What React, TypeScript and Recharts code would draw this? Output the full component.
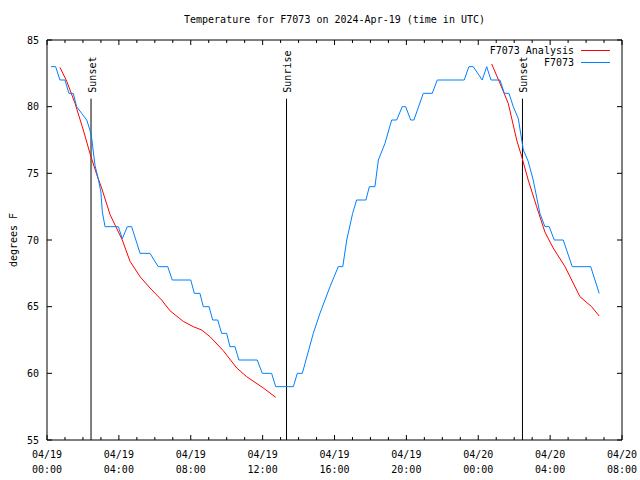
import { LineChart, Line, XAxis, YAxis, ReferenceLine, Legend } from 'recharts'

// gnuplot-style temperature plot: station obs vs. analysis, with sun events
const FONT = '"DejaVu Sans Mono", "Liberation Mono", monospace'

// [hours since 04/19 00:00 UTC, temperature °F]
const analysisEvening: [number, number][] = [
  [0.72, 82.95], [1.1, 81.9], [1.56, 80.25], [2.02, 78.25], [2.39, 76.5], [2.77, 74.9],
  [3.04, 73.9], [3.51, 71.9], [4.19, 70], [4.62, 68.4], [5.18, 67.25], [5.73, 66.4],
  [6.38, 65.5], [6.84, 64.7], [7.58, 63.9], [8.14, 63.5], [8.61, 63.25], [9.07, 62.75],
  [9.81, 61.7], [10.56, 60.4], [11.11, 59.75], [12.04, 58.9], [12.73, 58.2],
]

const analysisNextEvening: [number, number][] = [
  [24.75, 83.2], [25.21, 81.75], [25.67, 80.25], [26.14, 77.5], [26.42, 76.25],
  [26.78, 74.5], [27.25, 72.5], [27.71, 70.6], [28.17, 69.4], [28.83, 68],
  [29.66, 65.75], [30.31, 65], [30.73, 64.3],
]

const stationObs: [number, number][] = [
  [0.22, 83], [0.48, 83], [0.72, 82], [1.0, 82], [1.22, 81], [1.46, 81], [1.65, 80],
  [1.93, 79.5], [2.21, 79], [2.39, 78.25], [2.49, 77.6], [2.67, 75.6], [2.85, 74.6],
  [3.0, 73.6], [3.08, 72.1], [3.23, 71], [3.97, 71], [4.19, 70.1], [4.47, 71], [4.71, 71],
  [5.18, 69], [5.73, 69], [6.19, 68], [6.72, 68], [6.97, 67], [8.0, 67], [8.2, 66],
  [8.51, 66], [8.7, 65], [9.02, 65], [9.22, 64], [9.5, 64], [9.72, 63], [10.0, 63],
  [10.18, 62], [10.46, 62], [10.68, 61], [11.7, 61], [11.98, 60], [12.5, 60], [12.73, 59],
  [13.71, 59], [13.93, 60], [14.21, 60], [14.82, 63], [15.19, 64.5], [15.75, 66.5],
  [16.21, 68], [16.46, 68], [16.68, 70], [17.01, 72], [17.23, 73], [17.75, 73], [17.94, 74],
  [18.25, 74], [18.44, 76], [18.81, 77.25], [19.18, 79], [19.46, 79], [19.77, 80],
  [19.96, 80], [20.24, 79], [20.42, 79], [20.94, 81], [21.44, 81], [21.72, 82], [23.22, 82],
  [23.48, 83], [23.72, 83], [24.22, 82], [24.47, 83], [24.71, 82], [25.21, 82], [25.45, 81],
  [25.71, 81], [25.95, 80], [26.23, 79.1], [26.42, 77.5], [26.51, 76.75], [26.78, 75.9],
  [27.06, 74.5], [27.43, 72], [27.71, 71], [27.95, 71], [28.23, 70], [28.73, 70],
  [29.23, 68], [30.26, 68], [30.73, 66],
]

const seriesNames = ['F7073 Analysis', 'F7073']
const seriesColors = ['#ff0000', '#0080ff']

const sunTimes = [2.45, 13.33, 26.46]
const sunLabels = ['Sunset', 'Sunrise', 'Sunset']
const sunLineTop = 80.6

const xTicks = [
  0, 1, 2, 3, 4, 5, 6, 7, 8, 9, 10, 11, 12, 13, 14, 15, 16,
  17, 18, 19, 20, 21, 22, 23, 24, 25, 26, 27, 28, 29, 30, 31, 32,
]
const xMajorDates = ['04/19', '04/19', '04/19', '04/19', '04/19', '04/19', '04/20', '04/20', '04/20']
const xMajorTimes = ['00:00', '04:00', '08:00', '12:00', '16:00', '20:00', '00:00', '04:00', '08:00']
const yTicks = [55, 60, 65, 70, 75, 80, 85]

const toRows = (pts: [number, number][]) => pts.map(([t, temp]) => ({ t, temp }))

function BottomTick({ x, y, payload }: any) {
  const h = payload.value
  const major = h % 4 === 0
  const i = h / 4
  return (
    <g>
      <line x1={x} y1={y} x2={x} y2={y - (major ? 5 : 3)} stroke="#000" />
      {major && (
        <text x={x} y={y + 18} textAnchor="middle" fontFamily={FONT} fontSize={10} fill="#000">
          <tspan x={x}>{xMajorDates[i]}</tspan>
          <tspan x={x} dy={15}>{xMajorTimes[i]}</tspan>
        </text>
      )}
    </g>
  )
}

function TopTick({ x, y, payload }: any) {
  const major = payload.value % 4 === 0
  return <line x1={x} y1={y} x2={x} y2={y + (major ? 5 : 3)} stroke="#000" />
}

function LeftTick({ x, y, payload }: any) {
  return (
    <g>
      <line x1={x} y1={y} x2={x + 5} y2={y} stroke="#000" />
      <text x={x - 8} y={y} dy={3.5} textAnchor="end" fontFamily={FONT} fontSize={10} fill="#000">
        {payload.value}
      </text>
    </g>
  )
}

function RightTick({ x, y }: any) {
  return <line x1={x} y1={y} x2={x - 5} y2={y} stroke="#000" />
}

function SunLabel({ viewBox, text }: any) {
  const x = viewBox.x + 1
  const y = viewBox.y - 6
  return (
    <text
      x={x}
      y={y}
      transform={`rotate(-90 ${x} ${y})`}
      textAnchor="start"
      dominantBaseline="central"
      fontFamily={FONT}
      fontSize={10}
      fill="#000"
    >
      {text}
    </text>
  )
}

// legend in plot order (recharts sorts the payload by name otherwise)
function LegendBox({ payload }: any) {
  const items = (payload || [])
    .filter((p: any) => p.type !== 'none')
    .sort((a: any, b: any) => seriesNames.indexOf(a.value) - seriesNames.indexOf(b.value))
  return (
    <div style={{ fontFamily: FONT, fontSize: 10, color: '#000' }}>
      {items.map((p: any) => (
        <div
          key={p.value}
          style={{ display: 'flex', justifyContent: 'flex-end', alignItems: 'center', height: 12 }}
        >
          <span>{p.value}</span>
          <span style={{ marginLeft: 7, width: 29, borderTop: `1px solid ${p.color}` }} />
        </div>
      ))}
    </div>
  )
}

export default function App() {
  return (
    <div style={{ position: 'absolute', left: 0, top: 0, background: '#fff' }}>
      <LineChart width={640} height={480} margin={{ top: 0, right: 0, bottom: 0, left: 0 }}>
        <XAxis
          dataKey="t"
          type="number"
          domain={[0, 32]}
          allowDataOverflow
          ticks={xTicks}
          interval={0}
          height={40}
          tickSize={0}
          tickMargin={0}
          tickLine={false}
          axisLine={{ stroke: '#000' }}
          tick={(p: any) => <BottomTick {...p} />}
        />
        <XAxis
          xAxisId="top"
          orientation="top"
          dataKey="t"
          type="number"
          domain={[0, 32]}
          allowDataOverflow
          ticks={xTicks}
          interval={0}
          height={40}
          tickSize={0}
          tickMargin={0}
          tickLine={false}
          axisLine={{ stroke: '#000' }}
          tick={(p: any) => <TopTick {...p} />}
          label={(p: any) => (
            <text
              x={p.viewBox.x + p.viewBox.width / 2}
              y={p.viewBox.y + 23}
              textAnchor="middle"
              fontFamily={FONT}
              fontSize={10}
              fill="#000"
            >
              Temperature for F7073 on 2024-Apr-19 (time in UTC)
            </text>
          )}
        />
        <YAxis
          type="number"
          domain={[55, 85]}
          allowDataOverflow
          ticks={yTicks}
          interval={0}
          width={47}
          tickSize={0}
          tickMargin={0}
          tickLine={false}
          axisLine={{ stroke: '#000' }}
          tick={(p: any) => <LeftTick {...p} />}
          label={(p: any) => {
            const cx = p.viewBox.x + 13
            const cy = p.viewBox.y + p.viewBox.height / 2
            return (
              <text
                x={cx}
                y={cy}
                transform={`rotate(-90 ${cx} ${cy})`}
                textAnchor="middle"
                dominantBaseline="central"
                fontFamily={FONT}
                fontSize={10}
                fill="#000"
              >
                degrees F
              </text>
            )
          }}
        />
        <YAxis
          yAxisId="right"
          orientation="right"
          type="number"
          domain={[55, 85]}
          allowDataOverflow
          ticks={yTicks}
          interval={0}
          width={18}
          tickSize={0}
          tickMargin={0}
          tickLine={false}
          axisLine={{ stroke: '#000' }}
          tick={(p: any) => <RightTick {...p} />}
        />
        {sunTimes.map((t, i) => (
          <ReferenceLine
            key={t}
            segment={[{ x: t, y: sunLineTop }, { x: t, y: 55 }]}
            stroke="#000"
            strokeWidth={1}
            label={(p: any) => <SunLabel {...p} text={sunLabels[i]} />}
          />
        ))}
        <Line
          data={toRows(analysisEvening)}
          dataKey="temp"
          name={seriesNames[0]}
          type="linear"
          stroke={seriesColors[0]}
          strokeWidth={1}
          dot={false}
          isAnimationActive={false}
        />
        <Line
          data={toRows(analysisNextEvening)}
          dataKey="temp"
          name={seriesNames[0] + ' (2)'}
          legendType="none"
          type="linear"
          stroke={seriesColors[0]}
          strokeWidth={1}
          dot={false}
          isAnimationActive={false}
        />
        <Line
          data={toRows(stationObs)}
          dataKey="temp"
          name={seriesNames[1]}
          type="linear"
          stroke={seriesColors[1]}
          strokeWidth={1}
          dot={false}
          isAnimationActive={false}
        />
        <Legend
          layout="vertical"
          align="center"
          verticalAlign="middle"
          content={(p: any) => <LegendBox {...p} />}
          wrapperStyle={{ top: 44, left: 400, width: 210 }}
        />
      </LineChart>
    </div>
  )
}
